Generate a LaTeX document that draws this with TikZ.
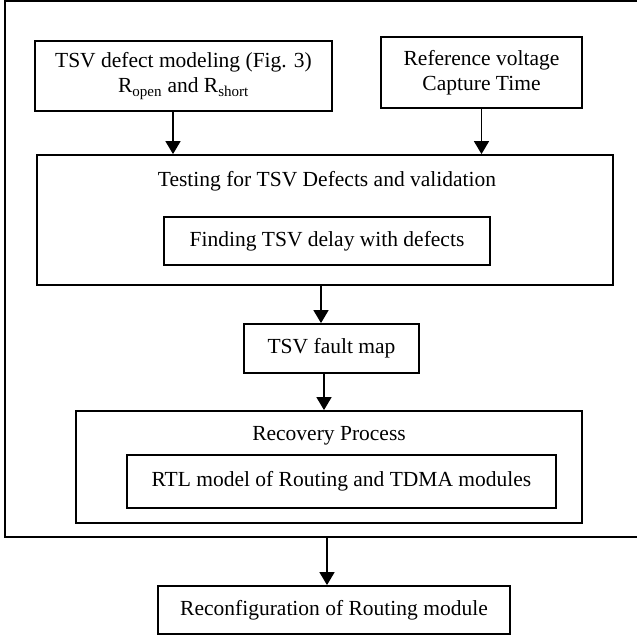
\documentclass[tikz,border=0pt]{standalone}
\usepackage{fontspec}
\setmainfont{Liberation Serif}
\usetikzlibrary{arrows.meta}
\tikzset{
	block/.style={draw, line width=1.8pt, inner sep=0pt, align=center},
	flow/.style={line width=1.5pt, -{Triangle[width=15pt,length=13pt]}},
}

\begin{document}
\begin{tikzpicture}[x=1pt,y=-1pt,font=\fontsize{21.5}{25}\selectfont]
		\useasboundingbox (0,0) rectangle (637,637);
		% outer frame, its right side runs off the page
		\draw[line width=1.8pt] (641,1) -- (5,1) -- (5,537) -- (641,537);
		\coordinate (framebot) at (327,537);
		\node[block, minimum width=297, minimum height=70] (model) at (183.5,76) {TSV defect modeling (Fig. 3)\\R\textsubscript{open} and R\textsubscript{short}};
		\node[block, minimum width=201, minimum height=71] (refv) at (481.5,72.5) {Reference voltage\\Capture Time};
		\node[block, minimum width=576, minimum height=130] (testing) at (325,220) {};
		\node (testtitle) at (327,181) {Testing for TSV Defects and validation};
		\node[block, minimum width=326, minimum height=48] (finding) at (327,241) {Finding TSV delay with defects};
		\node[block, minimum width=175, minimum height=49] (fault) at (331.5,348.5) {TSV fault map};
		\node[block, minimum width=506, minimum height=112] (recovery) at (329,467) {};
		\node (rectitle) at (329,436) {Recovery Process};
		\node[block, minimum width=429, minimum height=53] (rtl) at (341.5,481.5) {RTL model of Routing and TDMA modules};
		\node[block, minimum width=352, minimum height=48] (reconf) at (334,610) {Reconfiguration of Routing module};
		\draw[flow] ([xshift=-10.5pt]model.south) -- ([xshift=-10.5pt]model.south |- testing.north);
		\draw[flow] (refv.south) -- (refv.south |- testing.north);
		\draw[flow] ([xshift=-4pt]testing.south) -- ([xshift=-4pt]testing.south |- fault.north);
		\draw[flow] ([xshift=-7.5pt]fault.south) -- ([xshift=-7.5pt]fault.south |- recovery.north);
		\draw[flow] (framebot) -- (framebot |- reconf.north);
	\end{tikzpicture}
\end{document}
